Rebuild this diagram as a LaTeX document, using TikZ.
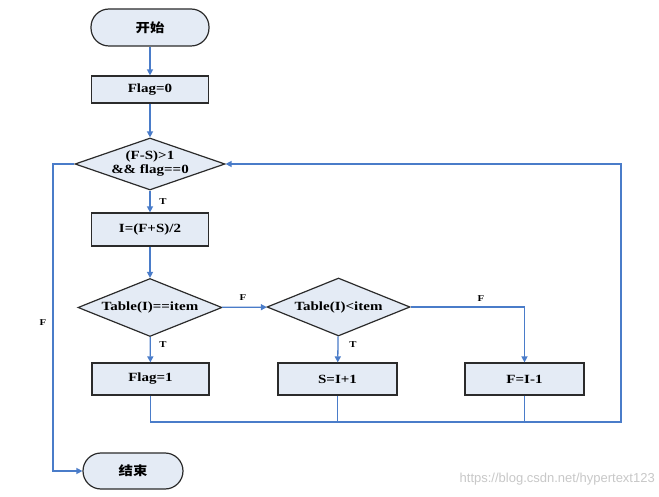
\documentclass[tikz,border=0pt]{standalone}
\usepackage{fontspec}
\setmainfont[FakeStretch=1.2]{Liberation Serif}
\newfontfamily\cjk[FakeStretch=1.15]{Noto Sans CJK SC}
\newfontfamily\wm{Liberation Sans}
\usetikzlibrary{shapes.geometric,arrows.meta}
\definecolor{lineblue}{HTML}{4A7CC9}
\definecolor{boxfill}{HTML}{E4EBF5}
\definecolor{boxedge}{HTML}{2B2B2B}
\definecolor{wmgray}{HTML}{C8C8C8}
\begin{document}
\begin{tikzpicture}[x=1pt,y=-1pt,
  font=\fontsize{12.5}{14}\selectfont\bfseries,
  procbox/.style={draw=boxedge,line width=1.2pt,fill=boxfill,rectangle,inner sep=0pt},
  termbox/.style={draw=boxedge,line width=1.2pt,fill=boxfill,rectangle,rounded corners=18pt,inner sep=0pt},
  decbox/.style={draw=boxedge,line width=1.2pt,fill=boxfill,diamond,inner sep=0pt},
  conn/.style={draw=lineblue,line width=1.3pt},
  arr/.style={conn,-{Triangle[length=6pt,width=6pt]}},
  lbl/.style={font=\fontsize{9}{10}\selectfont\bfseries,inner sep=0pt}]
\useasboundingbox (0,0) rectangle (659,497);
\fill[white] (0,0) rectangle (659,497);

\node[termbox,minimum width=118pt,minimum height=37pt] (start) at (150,27.5) {\cjk 开始};
\node[procbox,minimum width=117pt,minimum height=27pt] (flag0) at (150,89.5) {Flag=0};
\node[decbox,minimum width=150pt,minimum height=52pt] (d1) at (150,164) {};
\node[align=center,inner sep=0pt,font=\fontsize{12.5}{14}\selectfont\bfseries] (d1t) at (d1.center) {(F-S)>1\\\&\& flag==0};
\node[procbox,minimum width=117pt,minimum height=33pt] (calc) at (150,229.5) {I=(F+S)/2};
\node[decbox,minimum width=144pt,minimum height=58pt] (d2) at (150,307.5) {};
\node[inner sep=0pt] (d2t) at (d2.center) {Table(I)==item};
\node[decbox,minimum width=143pt,minimum height=58pt] (d3) at (338.5,307) {};
\node[inner sep=0pt] (d3t) at (d3.center) {Table(I)<item};
\node[procbox,minimum width=117pt,minimum height=32pt] (flag1) at (150.5,379) {Flag=1};
\node[procbox,minimum width=119pt,minimum height=32pt] (sbox) at (337.5,379) {S=I+1};
\node[procbox,minimum width=119pt,minimum height=32pt] (fbox) at (524.5,379) {F=I-1};
\node[termbox,minimum width=100pt,minimum height=36pt] (stop) at (133,471) {\cjk 结束};

\coordinate (br) at (621,422);
\coordinate (tr) at (621,164);
\coordinate (lt) at (53,164);

\draw[arr] (start) -- (flag0);
\draw[arr] (flag0) -- (d1);
\draw[arr] (d1) -- (calc);
\draw[arr] (calc) -- (d2);
\draw[arr] (d2) -- (d3);
\draw[arr] (d2) -- (flag1);
\draw[arr] (d3) -- (sbox);
\draw[arr] (d3.east) -| (fbox.north);
\draw[arr] (flag1.south) |- (br) -- (tr) -- (d1.east);
\draw[conn] (sbox.south) -- (sbox.south |- br);
\draw[conn] (fbox.south) -- (fbox.south |- br);
\draw[arr] (d1.west) -- (lt) |- (stop.west);

\node[lbl] (lt1) at (163,202) {T};
\node[lbl] (lf1) at (243,298) {F};
\node[lbl] (lt2) at (163,345) {T};
\node[lbl] (lt3) at (353,345) {T};
\node[lbl] (lf2) at (481,299) {F};
\node[lbl] (lf3) at (43,323) {F};

\node[anchor=east,inner sep=0pt,text=wmgray,font=\wm\fontsize{13}{14}\selectfont] (wmark) at (655,479) {https://blog.csdn.net/hypertext123};
\end{tikzpicture}
\end{document}
